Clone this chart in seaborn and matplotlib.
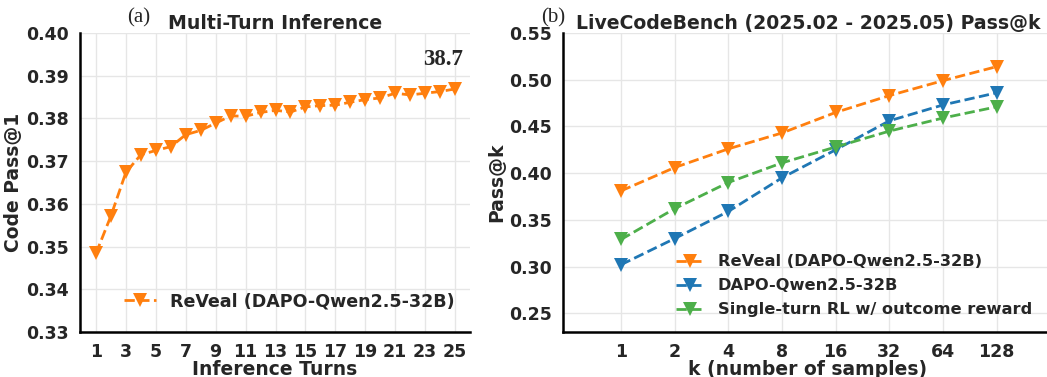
import matplotlib
matplotlib.use("Agg")
import matplotlib.pyplot as plt
import seaborn as sns
import numpy as np
import pandas as pd

# Data
turns = list(range(1, 26))
reveal_turns = [0.3484, 0.3572, 0.3674, 0.3715, 0.3725, 0.3734, 0.3762, 0.3772,
                0.3789, 0.3806, 0.3805, 0.3814, 0.3819, 0.3815, 0.3827, 0.3830,
                0.3831, 0.3838, 0.3844, 0.3848, 0.3859, 0.3855, 0.3859, 0.3863,
                0.3869]

k_labels = ["1", "2", "4", "8", "16", "32", "64", "128"]
reveal_k = [0.381, 0.406, 0.426, 0.443, 0.465, 0.483, 0.499, 0.514]
dapo_k = [0.302, 0.330, 0.359, 0.395, 0.425, 0.456, 0.473, 0.486]
single_k = [0.329, 0.362, 0.390, 0.411, 0.428, 0.445, 0.459, 0.471]

series_names = ["ReVeal (DAPO-Qwen2.5-32B)", "DAPO-Qwen2.5-32B",
                "Single-turn RL w/ outcome reward"]
colors = ["#ff7f0e", "#1f77b4", "#4daf4a"]

sns.set_theme(style="whitegrid")
plt.rcParams["font.family"] = ["DejaVu Sans"]
plt.rcParams["font.weight"] = "bold"
plt.rcParams["axes.labelweight"] = "bold"
plt.rcParams["grid.color"] = "#e6e6e6"

fig = plt.figure(figsize=(10.47, 3.77), dpi=100)
W, H = 1047, 377
ax1 = fig.add_axes([80 / W, 1 - 332 / H, 390 / W, 299 / H])
ax2 = fig.add_axes([563 / W, 1 - 332 / H, 490 / W, 299 / H])

line_kw = dict(linestyle="--", marker="v", markersize=10, linewidth=2,
               markeredgewidth=0)

# (a) multi-turn inference
df_a = pd.DataFrame({"turn": turns, "score": reveal_turns})
sns.lineplot(data=df_a, x="turn", y="score", ax=ax1, color=colors[0],
             label=series_names[0], **line_kw)
ax1.set_xlim(-0.07, 26)
ax1.set_ylim(0.33, 0.40)
ax1.set_xticks(turns[::2])
ax1.set_yticks(np.arange(0.33, 0.401, 0.01))
ax1.yaxis.set_major_formatter(matplotlib.ticker.FormatStrFormatter("%.2f"))
ax1.set_xlabel("Inference Turns", fontsize=13.5, labelpad=-1)
ax1.set_ylabel("Code Pass@1", fontsize=13.5, labelpad=2)
ax1.set_title("Multi-Turn Inference", fontsize=13.6, fontweight="bold", pad=3)
ax1.text(0.12, 1.02, "(a)", transform=ax1.transAxes, family="Liberation Serif",
         fontsize=15, fontweight="normal", va="bottom")
ax1.text(turns[-1] - 0.8, reveal_turns[-1] + 0.0068, f"{reveal_turns[-1] * 100:.1f}",
         family="Liberation Serif", fontsize=16.5, fontweight="bold",
         ha="center", va="center")
ax1.legend(loc="lower right", frameon=False, fontsize=12.6, handlelength=1.8,
           bbox_to_anchor=(1.0, 0.02))

# (b) pass@k
pos = np.arange(len(k_labels))
for name, vals, c in zip(series_names, [reveal_k, dapo_k, single_k], colors):
    sns.lineplot(x=pos, y=vals, ax=ax2, color=c, label=name, **line_kw)
ax2.set_xlim(-1.08, 8.05)
ax2.set_ylim(0.23, 0.55)
ax2.set_xticks(pos)
ax2.set_xticklabels(k_labels)
ax2.set_yticks(np.arange(0.25, 0.551, 0.05))
ax2.yaxis.set_major_formatter(matplotlib.ticker.FormatStrFormatter("%.2f"))
ax2.set_xlabel("k (number of samples)", fontsize=13.5, labelpad=-1)
ax2.set_ylabel("Pass@k", fontsize=13.5, labelpad=2)
ax2.set_title("LiveCodeBench (2025.02 - 2025.05) Pass@k", fontsize=13.6,
              fontweight="bold", pad=3)
ax2.text(-0.045, 1.02, "(b)", transform=ax2.transAxes, family="Liberation Serif",
         fontsize=15, fontweight="normal", va="bottom")
ax2.legend(loc="lower left", frameon=False, fontsize=11.7, handlelength=1.8,
           bbox_to_anchor=(0.2, 0.0), labelspacing=0.55)

for ax in (ax1, ax2):
    sns.despine(ax=ax)
    for s in ("left", "bottom"):
        ax.spines[s].set_color("black")
        ax.spines[s].set_linewidth(1.8)
    ax.tick_params(axis="both", labelsize=12.5, pad=2)
    for lab in ax.get_xticklabels() + ax.get_yticklabels():
        lab.set_fontweight("bold")

fig.savefig("out.png", dpi=100)
